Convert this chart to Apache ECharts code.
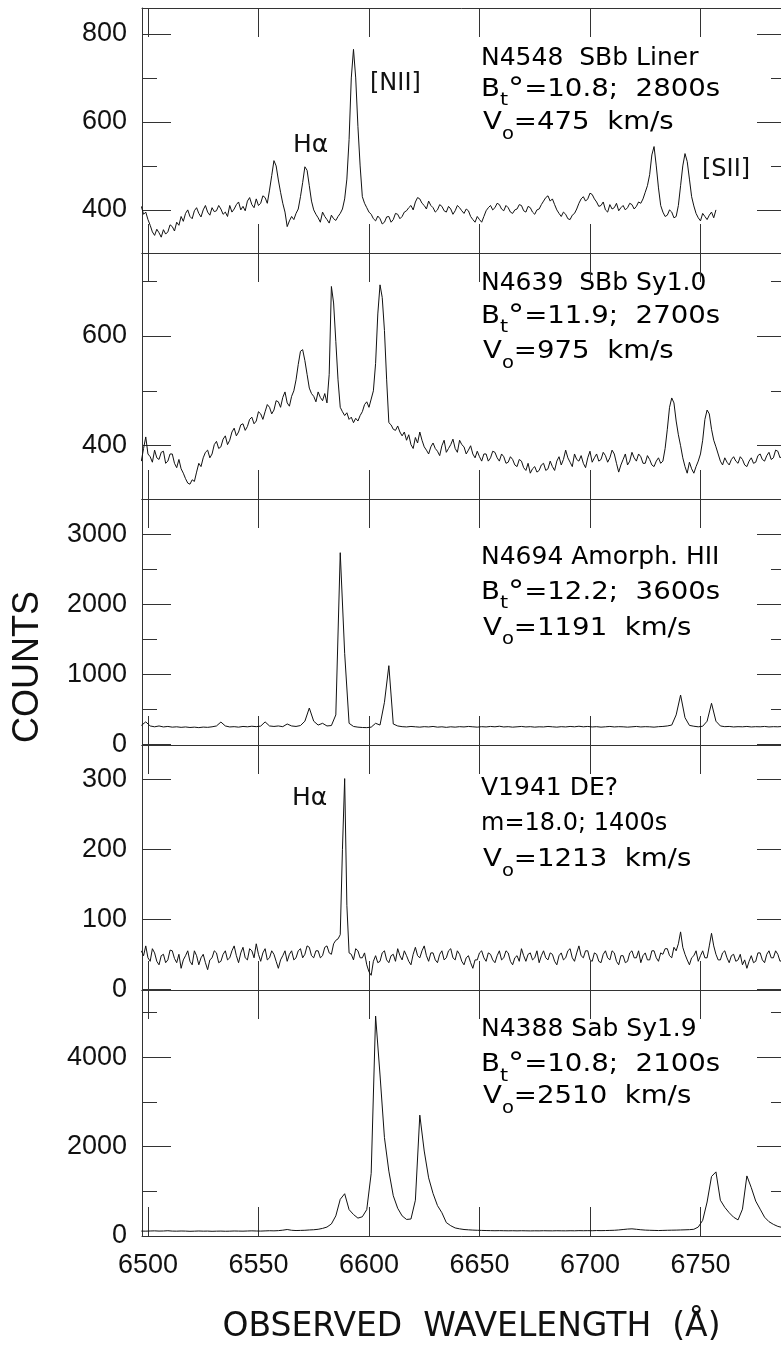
<!DOCTYPE html>
<html>
<head>
<meta charset="utf-8">
<script src="https://cdn.jsdelivr.net/npm/echarts@6.0.0/dist/echarts.min.js"></script>
<style>
  html, body { margin: 0; padding: 0; background: #fff; }
  #chart { width: 781px; height: 1345px; }
</style>
</head>
<body>
<div id="chart"></div>
<script>
// wavelength grids (Å): 1 Å for the noisy spectra, 2 Å for the smooth ones
var waveFine = [
  6497,6498,6499,6500,6501,6502,6503,6504,6505,6506,
  6507,6508,6509,6510,6511,6512,6513,6514,6515,6516,
  6517,6518,6519,6520,6521,6522,6523,6524,6525,6526,
  6527,6528,6529,6530,6531,6532,6533,6534,6535,6536,
  6537,6538,6539,6540,6541,6542,6543,6544,6545,6546,
  6547,6548,6549,6550,6551,6552,6553,6554,6555,6556,
  6557,6558,6559,6560,6561,6562,6563,6564,6565,6566,
  6567,6568,6569,6570,6571,6572,6573,6574,6575,6576,
  6577,6578,6579,6580,6581,6582,6583,6584,6585,6586,
  6587,6588,6589,6590,6591,6592,6593,6594,6595,6596,
  6597,6598,6599,6600,6601,6602,6603,6604,6605,6606,
  6607,6608,6609,6610,6611,6612,6613,6614,6615,6616,
  6617,6618,6619,6620,6621,6622,6623,6624,6625,6626,
  6627,6628,6629,6630,6631,6632,6633,6634,6635,6636,
  6637,6638,6639,6640,6641,6642,6643,6644,6645,6646,
  6647,6648,6649,6650,6651,6652,6653,6654,6655,6656,
  6657,6658,6659,6660,6661,6662,6663,6664,6665,6666,
  6667,6668,6669,6670,6671,6672,6673,6674,6675,6676,
  6677,6678,6679,6680,6681,6682,6683,6684,6685,6686,
  6687,6688,6689,6690,6691,6692,6693,6694,6695,6696,
  6697,6698,6699,6700,6701,6702,6703,6704,6705,6706,
  6707,6708,6709,6710,6711,6712,6713,6714,6715,6716,
  6717,6718,6719,6720,6721,6722,6723,6724,6725,6726,
  6727,6728,6729,6730,6731,6732,6733,6734,6735,6736,
  6737,6738,6739,6740,6741,6742,6743,6744,6745,6746,
  6747,6748,6749,6750,6751,6752,6753,6754,6755,6756,
  6757,6758,6759,6760,6761,6762,6763,6764,6765,6766,
  6767,6768,6769,6770,6771,6772,6773,6774,6775,6776,
  6777,6778,6779,6780,6781,6782,6783,6784,6785,6786,
  6787,6788,6789
];
var waveCoarse = [
  6497,6499,6501,6503,6505,6507,6509,6511,6513,6515,
  6517,6519,6521,6523,6525,6527,6529,6531,6533,6535,
  6537,6539,6541,6543,6545,6547,6549,6551,6553,6555,
  6557,6559,6561,6563,6565,6567,6569,6571,6573,6575,
  6577,6579,6581,6583,6585,6587,6589,6591,6593,6595,
  6597,6599,6601,6603,6605,6607,6609,6611,6613,6615,
  6617,6619,6621,6623,6625,6627,6629,6631,6633,6635,
  6637,6639,6641,6643,6645,6647,6649,6651,6653,6655,
  6657,6659,6661,6663,6665,6667,6669,6671,6673,6675,
  6677,6679,6681,6683,6685,6687,6689,6691,6693,6695,
  6697,6699,6701,6703,6705,6707,6709,6711,6713,6715,
  6717,6719,6721,6723,6725,6727,6729,6731,6733,6735,
  6737,6739,6741,6743,6745,6747,6749,6751,6753,6755,
  6757,6759,6761,6763,6765,6767,6769,6771,6773,6775,
  6777,6779,6781,6783,6785,6787,6789
];

// counts on waveFine
var n4548 = [
  408,390,395,378,365,350,342,356,348,338,
  355,345,350,366,362,352,372,365,385,374,
  392,400,385,380,398,405,392,384,400,410,
  395,388,405,396,398,410,402,390,395,385,
  410,395,402,412,418,400,408,398,420,428,
  412,405,425,410,415,432,428,415,445,478,
  512,500,468,440,415,395,362,375,385,378,
  392,402,430,462,498,490,455,420,400,390,
  382,372,395,385,378,370,388,380,376,385,
  392,402,425,470,560,700,765,700,590,500,
  430,415,405,395,390,380,375,386,380,368,
  372,384,385,372,378,392,390,380,385,395,
  398,405,410,400,418,428,425,415,410,402,
  420,410,405,395,400,412,408,398,395,408,
  402,390,398,410,405,398,392,402,398,385,
  378,372,385,378,372,385,398,405,410,400,
  405,415,412,402,398,410,405,395,392,400,
  402,412,410,398,395,408,405,395,390,400,
  402,412,420,428,432,420,425,412,400,392,
  385,395,390,380,378,388,392,402,415,425,
  430,420,425,438,435,425,418,408,410,418,
  400,395,412,402,405,415,398,405,410,400,
  405,415,412,402,408,418,415,425,440,455,
  480,525,544,500,450,410,395,385,388,400,
  395,382,385,410,455,500,528,510,470,430,
  409,392,382,375,392,385,378,388,395,382,
  400,null,null,null,null,null,null,null,null,null,
  null,null,null,null,null,null,null,null,null,null,
  null,null,null,null,null,null,null,null,null,null,
  null,null,null
];
var n4639 = [
  372,395,416,385,380,370,392,378,375,388,
  390,368,372,385,385,368,360,375,358,350,
  340,332,330,338,335,352,368,362,378,388,
  392,378,385,402,408,395,398,412,418,402,
  410,425,432,418,425,438,440,428,435,448,
  452,440,445,462,458,448,462,475,470,458,
  465,482,480,470,488,498,478,472,490,500,
  520,548,572,575,555,530,505,495,490,480,
  498,488,482,495,478,530,690,660,590,520,
  470,462,455,460,448,452,442,450,445,455,
  462,475,480,470,485,500,550,640,693,670,
  610,520,442,438,430,428,436,425,418,425,
  410,420,402,395,415,405,425,410,398,392,
  385,398,405,395,390,382,400,410,388,395,
  402,412,395,388,410,402,398,385,392,400,
  385,378,390,380,372,385,385,372,378,390,
  388,378,372,385,380,368,370,380,375,365,
  362,375,372,360,355,368,350,358,362,352,
  355,365,368,355,358,372,362,355,372,380,
  365,375,392,378,370,362,385,375,372,382,
  368,360,378,390,370,378,385,372,375,388,
  382,370,378,392,385,368,352,365,375,385,
  365,372,388,378,372,385,380,368,368,382,
  375,365,362,372,378,368,372,395,430,470,
  487,478,445,420,400,378,362,350,370,358,
  350,362,372,385,410,448,465,458,430,410,
  398,385,372,365,378,370,365,375,380,372,
  368,380,375,365,362,372,378,368,370,382,
  385,375,372,382,388,375,378,392,390,378,
  382,372,385
];
var v1941 = [
  55,48,62,45,40,58,52,40,35,48,
  50,38,42,56,55,44,38,50,30,42,
  48,55,40,35,55,48,35,45,50,38,
  28,42,45,55,52,38,40,50,55,42,
  45,55,62,48,38,52,60,45,42,58,
  55,45,65,50,40,52,58,42,45,55,
  50,40,30,42,48,55,40,50,55,42,
  45,55,58,45,50,62,60,48,45,55,
  55,45,48,60,62,52,50,65,70,72,
  78,200,301,120,52,50,42,58,55,45,
  45,52,35,25,20,40,48,38,40,52,
  55,42,38,48,50,40,58,48,42,55,
  48,40,35,50,60,48,45,55,62,48,
  40,52,52,42,38,50,55,42,45,55,
  58,45,42,55,50,40,35,45,48,38,
  30,42,42,52,55,45,40,52,50,42,
  38,48,55,42,45,55,52,40,35,45,
  48,40,58,48,40,50,52,42,45,55,
  38,48,55,45,42,52,50,40,35,48,
  52,42,45,55,58,45,40,52,62,48,
  45,55,55,42,40,52,50,40,38,50,
  55,45,42,55,52,40,35,48,48,38,
  40,52,55,45,45,55,38,48,52,42,
  42,55,55,45,40,52,50,58,58,48,
  45,60,55,65,82,60,50,42,35,45,
  48,55,40,48,55,45,45,62,80,62,
  50,42,42,52,55,45,38,48,50,40,
  42,50,35,42,30,40,48,38,40,52,
  52,42,38,50,55,45,45,55,50,40,
  42,52,48
];

// counts on waveCoarse
var n4694 = [
  270,320,262,250,262,248,255,245,250,242,
  248,240,245,238,246,242,250,262,318,262,
  248,252,245,255,250,258,252,260,320,262,
  255,262,252,290,262,255,268,330,518,330,
  275,300,262,268,420,2737,1300,300,255,245,
  240,238,245,300,275,600,1123,290,262,252,
  248,255,250,245,252,248,255,245,250,242,
  250,245,252,248,255,250,245,252,248,255,
  250,258,248,252,245,250,255,248,252,245,
  250,248,255,250,245,252,248,255,250,258,
  250,255,248,252,245,250,255,248,252,250,
  245,250,255,248,252,250,245,252,255,262,
  275,420,704,380,270,258,250,258,330,586,
  330,262,252,255,248,252,250,255,248,252,
  250,255,248,252,250,255,252
];
var n4388 = [
  110,108,112,115,110,112,118,110,108,112,
  110,105,108,112,108,110,105,108,110,106,
  108,112,110,108,112,115,112,110,114,118,
  115,120,130,145,128,122,125,128,135,140,
  150,170,200,270,450,820,945,590,480,400,
  430,590,1400,4918,3600,2200,1450,900,620,450,
  370,380,800,2702,1900,1300,950,680,520,300,
  230,180,160,145,138,132,128,125,122,120,
  118,120,118,116,118,115,118,116,114,116,
  115,118,116,115,118,116,115,118,116,120,
  118,120,118,122,120,122,125,128,135,145,
  155,160,150,140,132,128,125,122,125,128,
  130,132,135,138,142,150,200,350,760,1330,
  1433,800,640,520,420,360,600,1343,1080,780,
  600,420,320,260,215,190,175
];

// tick values
var xTicks = [6500, 6550, 6600, 6650, 6700, 6750];
var yMajor = [[400, 600, 800], [400, 600], [0, 1000, 2000, 3000], [0, 100, 200, 300], [0, 2000, 4000]];
var yMinor = [[500, 700], [500, 700], [500, 1500, 2500], [], [1000, 3000, 5000]];

// panel texts
var names = ['N4548  SBb Liner', 'N4639  SBb Sy1.0', 'N4694 Amorph. HII', 'V1941 DE?', 'N4388 Sab Sy1.9'];
var details = [
  '{m|B}{t|t}{d|°}{m|=10.8;  2800s}',
  '{m|B}{t|t}{d|°}{m|=11.9;  2700s}',
  '{m|B}{t|t}{d|°}{m|=12.2;  3600s}',
  '{h|m=18.0; 1400s}',
  '{m|B}{t|t}{d|°}{m|=10.8;  2100s}'
];
var velocities = [
  '{m|V}{o|o}{m|=475  km/s}',
  '{m|V}{o|o}{m|=975  km/s}',
  '{m|V}{o|o}{m|=1191  km/s}',
  '{m|V}{o|o}{m|=1213  km/s}',
  '{m|V}{o|o}{m|=2510  km/s}'
];

var spectra = [n4548, n4639, n4694, v1941, n4388];
var spectraWave = [waveFine, waveFine, waveCoarse, waveFine, waveCoarse];
var panelTop = [8, 253, 499, 745, 990];
var panelHeight = [245, 246, 246, 245, 246];
var yMin = [302, 303, -10, -1, 0];
var yMax = [859, 751, 3504, 349, 5500];
// baselines of the three text lines in each panel
var base1 = [66.7, 291.7, 566, 796.7, 1038.3];
var base2 = [98, 325, 600.7, 831.7, 1073.3];
var base3 = [131, 360, 636.7, 868.3, 1105];

var xMin = 6497.3, xMax = 6788.7;
var ink = '#111', axisInk = '#333';

var chart = echarts.init(document.getElementById('chart'));

var grids = [], xAxes = [], yAxes = [], series = [];

function xAxisFor(i, pos, showLabel) {
  return {
    type: 'value', gridIndex: i, position: pos, min: xMin, max: xMax,
    axisLine: { show: true, onZero: false, lineStyle: { color: axisInk, width: 1 } },
    axisTick: { show: true, inside: true, length: 29, customValues: xTicks, lineStyle: { color: axisInk, width: 1 } },
    axisLabel: {
      show: showLabel, customValues: xTicks, margin: 16, color: ink,
      fontFamily: 'Liberation Sans', fontSize: 27,
      formatter: function (v) { return String(v); }
    },
    splitLine: { show: false }
  };
}

function yAxisFor(i, pos, values, len, showLabel, showLine) {
  return {
    type: 'value', gridIndex: i, position: pos, min: yMin[i], max: yMax[i], offset: 0,
    axisLine: { show: showLine, onZero: false, lineStyle: { color: axisInk, width: 1 } },
    axisTick: { show: values.length > 0, inside: true, length: len, customValues: values, lineStyle: { color: axisInk, width: 1 } },
    axisLabel: {
      show: showLabel, customValues: values, margin: 15, color: ink,
      fontFamily: 'Liberation Sans', fontSize: 27,
      formatter: function (v) { return String(v); }
    },
    splitLine: { show: false }
  };
}

for (var i = 0; i < 5; i++) {
  grids.push({ left: 142, width: 644, top: panelTop[i], height: panelHeight[i], containLabel: false, outerBoundsMode: 'none' });
  xAxes.push(xAxisFor(i, 'bottom', i === 4));
  xAxes.push(xAxisFor(i, 'top', false));
  yAxes.push(yAxisFor(i, 'left', yMajor[i], 29, true, true));
  yAxes.push(yAxisFor(i, 'left', yMinor[i], 15, false, false));
  yAxes.push(yAxisFor(i, 'right', yMajor[i], 29, false, true));
  yAxes.push(yAxisFor(i, 'right', yMinor[i], 15, false, false));

  var pts = [], w = spectraWave[i];
  for (var k = 0; k < w.length; k++) {
    if (spectra[i][k] !== null) pts.push([w[k], spectra[i][k]]);
  }
  series.push({
    type: 'line', xAxisIndex: 2 * i, yAxisIndex: 4 * i, data: pts,
    showSymbol: false, symbol: 'none', silent: true, clip: true,
    lineStyle: { color: ink, width: 1 }
  });
}

var rich = {
  h: { fontFamily: 'DejaVu Sans', fontSize: 24, lineHeight: 40, color: ink },
  n: { fontFamily: 'DejaVu Sans', fontSize: 25, lineHeight: 40, color: ink },
  m: { fontFamily: 'DejaVu Sans', fontSize: 24, lineHeight: 40, color: ink },
  t: { fontFamily: 'DejaVu Sans', fontSize: 18, lineHeight: 20, verticalAlign: 'bottom', color: ink },
  d: { fontFamily: 'DejaVu Sans', fontSize: 28, lineHeight: 40, color: ink },
  o: { fontFamily: 'DejaVu Sans', fontSize: 17, lineHeight: 25, verticalAlign: 'bottom', color: ink }
};

var graphics = [];
function richLine(x, baseline, text, fs, sx) {
  graphics.push({
    type: 'text', x: x, y: baseline - (20 + 0.346 * fs), scaleX: sx, silent: true,
    style: { x: 0, y: 0, text: text, rich: rich, align: 'left', verticalAlign: 'top' }
  });
}
function plain(x, baseline, text, fs, family) {
  graphics.push({
    type: 'text', x: x, y: baseline - 0.346 * fs, silent: true,
    style: { text: text, fontFamily: family, fontSize: fs, fill: ink, align: 'left', verticalAlign: 'middle' }
  });
}

for (var j = 0; j < 5; j++) {
  richLine(481, base1[j], '{n|' + names[j] + '}', 25, 1);
  if (j === 3) richLine(481, base2[j], details[j], 24, 1);
  else richLine(481, base2[j], details[j], 24, 1.15);
  richLine(483, base3[j], velocities[j], 24, 1.15);
}

// line identifications
plain(293, 154, 'Hα', 25, 'DejaVu Sans');
plain(370, 92, '[NII]', 24, 'DejaVu Sans');
plain(702, 178, '[SII]', 24, 'DejaVu Sans');
plain(292, 806.7, 'Hα', 25, 'DejaVu Sans');

// axis titles
graphics.push({
  type: 'text', x: 28.5, y: 667, rotation: Math.PI / 2, silent: true,
  style: { text: 'COUNTS', fontFamily: 'Liberation Sans', fontSize: 36, fill: ink, align: 'center', verticalAlign: 'middle' }
});
graphics.push({
  type: 'text', x: 471.5, y: 1327, silent: true,
  style: { text: 'OBSERVED  WAVELENGTH  (Å)', fontFamily: 'DejaVu Sans', fontSize: 33, fill: ink, align: 'center', verticalAlign: 'middle' }
});

chart.setOption({
  animation: false,
  backgroundColor: '#fff',
  grid: grids,
  xAxis: xAxes,
  yAxis: yAxes,
  series: series,
  graphic: graphics
});
</script>
</body>
</html>
